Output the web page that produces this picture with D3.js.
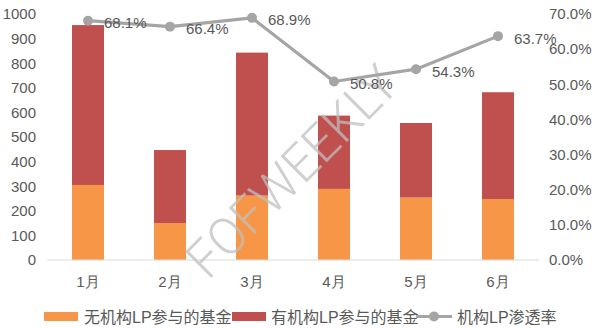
<!DOCTYPE html>
<html>
<head>
<meta charset="utf-8">
<script src="https://cdn.jsdelivr.net/npm/d3@7"></script>
<style>
  body { margin: 0; background: #fff; }
  svg { display: block; font-family: "Liberation Sans", "Noto Sans CJK SC", sans-serif; }
</style>
</head>
<body>
<svg id="chart" width="600" height="328"></svg>
<script>
const months = ['1月', '2月', '3月', '4月', '5月', '6月']
const noLP = [305, 150, 262, 289, 254, 248]
const withLP = [650, 297, 581, 298, 303, 434]
const rate = [0.681, 0.664, 0.689, 0.508, 0.543, 0.637]
const leftTicks = [0, 100, 200, 300, 400, 500, 600, 700, 800, 900, 1000]
const rightTicks = [0, 0.1, 0.2, 0.3, 0.4, 0.5, 0.6, 0.7]
const seriesNames = ['无机构LP参与的基金', '有机构LP参与的基金', '机构LP渗透率']

const colors = { noLP: '#F79646', withLP: '#C0504D', line: '#A5A5A5', text: '#595959', axis: '#D9D9D9' }

const svg = d3.select('#chart')

const x = d3.scaleBand().domain(months).range([47, 539]).paddingInner(0.61).paddingOuter(0.305)
const y = d3.scaleLinear().domain([0, 1000]).range([260, 14])
const y2 = d3.scaleLinear().domain([0, 0.7]).range([260, 14])

// left axis
const yAxis = d3.axisLeft(y).tickValues(leftTicks).tickSize(0).tickPadding(0).tickFormat(d3.format('d'))
svg.append('g')
  .attr('transform', 'translate(36,0)')
  .call(yAxis)
  .call(g => g.select('.domain').remove())
  .selectAll('text')
  .attr('fill', colors.text)
  .attr('font-size', 15)
  .attr('font-family', null)

// right axis
const y2Axis = d3.axisRight(y2).tickValues(rightTicks).tickSize(0).tickPadding(0).tickFormat(d3.format('.1%'))
svg.append('g')
  .attr('transform', 'translate(549,0)')
  .call(y2Axis)
  .call(g => g.select('.domain').remove())
  .selectAll('text')
  .attr('fill', colors.text)
  .attr('font-size', 15)
  .attr('font-family', null)

// stacked bars
const stacked = months.map((m, i) => ({ m: m, a: noLP[i], b: withLP[i] }))
const bars = svg.append('g')
bars.selectAll('.bar-no')
  .data(stacked)
  .enter()
  .append('rect')
  .attr('x', d => x(d.m))
  .attr('width', x.bandwidth())
  .attr('y', d => y(d.a))
  .attr('height', d => y(0) - y(d.a))
  .attr('fill', colors.noLP)
bars.selectAll('.bar-with')
  .data(stacked)
  .enter()
  .append('rect')
  .attr('x', d => x(d.m))
  .attr('width', x.bandwidth())
  .attr('y', d => y(d.a + d.b))
  .attr('height', d => y(d.a) - y(d.a + d.b))
  .attr('fill', colors.withLP)

// baseline
svg.append('line')
  .attr('x1', 47).attr('x2', 539)
  .attr('y1', y(0)).attr('y2', y(0))
  .attr('stroke', colors.axis)
  .attr('stroke-width', 1.2)

// x labels
const xAxis = d3.axisBottom(x).tickSize(0).tickPadding(0)
svg.append('g')
  .attr('transform', 'translate(0,' + 276 + ')')
  .call(xAxis)
  .call(g => g.select('.domain').remove())
  .selectAll('text')
  .attr('fill', colors.text)
  .attr('font-size', 15)
  .attr('font-family', null)

// watermark (under the line and its labels)
svg.append('text')
  .attr('transform', 'translate(208,281) rotate(-45)')
  .attr('font-family', 'Roboto, "Liberation Sans", sans-serif')
  .attr('font-weight', 300)
  .attr('font-size', 52)
  .attr('textLength', 274)
  .attr('lengthAdjust', 'spacingAndGlyphs')
  .attr('fill', '#BFBFBF')
  .attr('fill-opacity', 0.75)
  .text('FOFWEEKLY')

// line
const cx = d => x(d) + x.bandwidth() / 2
const linePts = months.map((m, i) => [cx(m), y2(rate[i])])
svg.append('path')
  .attr('d', d3.line()(linePts))
  .attr('fill', 'none')
  .attr('stroke', colors.line)
  .attr('stroke-width', 3.2)
  .attr('stroke-linejoin', 'round')
svg.append('g')
  .selectAll('circle')
  .data(linePts)
  .enter()
  .append('circle')
  .attr('cx', d => d[0])
  .attr('cy', d => d[1])
  .attr('r', 5)
  .attr('fill', colors.line)

svg.append('g')
  .selectAll('text')
  .data(linePts)
  .enter()
  .append('text')
  .attr('x', d => d[0] + 16)
  .attr('y', d => d[1] + 2)
  .attr('dominant-baseline', 'central')
  .attr('font-size', 15)
  .attr('fill', colors.text)
  .text((d, i) => d3.format('.1%')(rate[i]))

// legend
const legend = svg.append('g').attr('font-size', 16).attr('fill', colors.text)
legend.append('rect').attr('x', 44).attr('y', 312).attr('width', 34).attr('height', 9).attr('fill', colors.noLP)
legend.append('text').attr('x', 84).attr('y', 317).attr('dominant-baseline', 'central').text(seriesNames[0])
legend.append('rect').attr('x', 232).attr('y', 312).attr('width', 34).attr('height', 9).attr('fill', colors.withLP)
legend.append('text').attr('x', 271).attr('y', 317).attr('dominant-baseline', 'central').text(seriesNames[1])
legend.append('line').attr('x1', 416).attr('x2', 452).attr('y1', 316.5).attr('y2', 316.5)
  .attr('stroke', colors.line).attr('stroke-width', 3.2)
legend.append('circle').attr('cx', 434).attr('cy', 316.5).attr('r', 5).attr('fill', colors.line)
legend.append('text').attr('x', 457).attr('y', 317).attr('dominant-baseline', 'central').text(seriesNames[2])
</script>
</body>
</html>
